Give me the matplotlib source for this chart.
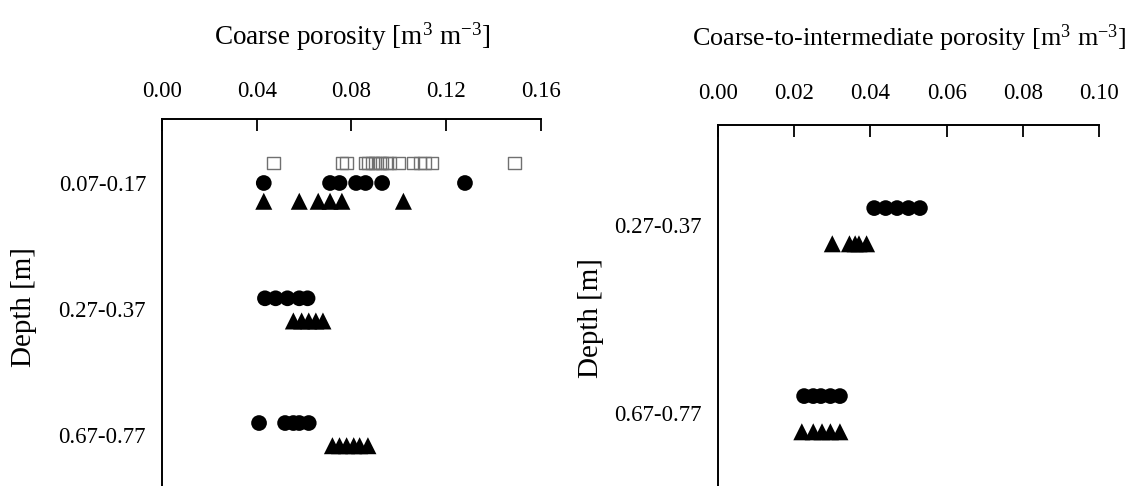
import matplotlib
matplotlib.use("Agg")
import matplotlib.pyplot as plt

plt.rcParams["font.family"] = ["Liberation Serif", "DejaVu Serif"]
plt.rcParams["mathtext.fontset"] = "custom"
plt.rcParams["mathtext.rm"] = "Liberation Serif"
plt.rcParams["mathtext.it"] = "Liberation Serif:italic"

# ---- data -------------------------------------------------------------
depths_coarse = ["0.07-0.17", "0.27-0.37", "0.67-0.77"]
depths_inter = ["0.27-0.37", "0.67-0.77"]

# Coarse porosity [m3 m-3]
coarse_square_0717 = [0.047, 0.076, 0.078, 0.086, 0.087, 0.089, 0.090, 0.092,
                      0.093, 0.095, 0.096, 0.100, 0.106, 0.109, 0.111, 0.114, 0.149]
coarse_circle_0717 = [0.043, 0.071, 0.075, 0.082, 0.086, 0.093, 0.128]
coarse_triangle_0717 = [0.043, 0.058, 0.066, 0.071, 0.076, 0.102]
coarse_circle_2737 = [0.0435, 0.048, 0.053, 0.058, 0.0615]
coarse_triangle_2737 = [0.0555, 0.059, 0.062, 0.065, 0.068]
coarse_circle_6777 = [0.041, 0.052, 0.0555, 0.058, 0.062]
coarse_triangle_6777 = [0.072, 0.075, 0.078, 0.081, 0.0835, 0.087]

# Coarse-to-intermediate porosity [m3 m-3]
inter_circle_2737 = [0.041, 0.044, 0.047, 0.050, 0.053]
inter_triangle_2737 = [0.030, 0.0345, 0.036, 0.037, 0.039]
inter_circle_6777 = [0.0226, 0.025, 0.027, 0.0295, 0.032]
inter_triangle_6777 = [0.022, 0.025, 0.0273, 0.0295, 0.032]

# ---- styling ----------------------------------------------------------
W, H = 1135, 486
fig = plt.figure(figsize=(W / 100, H / 100), dpi=100)

circle_kw = dict(marker="o", s=128, c="black", edgecolors="none", zorder=3)
tri_kw = dict(marker="^", s=150, c="black", edgecolors="none", zorder=3)
square_kw = dict(marker="s", s=82, facecolors="none", edgecolors="#707070",
                 linewidths=1.0, zorder=2)

UNIT = r"[m$\mathregular{^{3}}$ m$\mathregular{^{-3}}$]"


def make_axes(left_px, right_px, top_px, bottom_px, cat0_px, px_per_cat, xmax):
    ax = fig.add_axes([left_px / W, 1 - bottom_px / H,
                       (right_px - left_px) / W, (bottom_px - top_px) / H])
    ax.set_xlim(0, xmax)
    ax.set_ylim((bottom_px - cat0_px) / px_per_cat, (top_px - cat0_px) / px_per_cat)
    for side in ("right", "bottom"):
        ax.spines[side].set_visible(False)
    for side in ("top", "left"):
        ax.spines[side].set_linewidth(1.4)
    ax.xaxis.set_ticks_position("top")
    ax.xaxis.set_label_position("top")
    ax.tick_params(axis="x", direction="in", length=8.5, width=1.3,
                   labelsize=16.5, pad=12)
    ax.tick_params(axis="y", length=0, labelsize=16.5, pad=11.5)
    return ax


# Left panel: coarse porosity
ax1 = make_axes(162, 540.7, 118.7, 520, 183, 126, 0.16)
ax1.set_xticks([0.00, 0.04, 0.08, 0.12, 0.16])
ax1.set_xticklabels([f"{v:.2f}" for v in [0.00, 0.04, 0.08, 0.12, 0.16]])
ax1.set_yticks(range(len(depths_coarse)))
ax1.set_yticklabels(depths_coarse)

ax1.scatter(coarse_square_0717, [-0.16] * len(coarse_square_0717), **square_kw)
ax1.scatter(coarse_circle_0717, [0.0] * len(coarse_circle_0717), **circle_kw)
ax1.scatter(coarse_triangle_0717, [0.145] * len(coarse_triangle_0717), **tri_kw)
ax1.scatter(coarse_circle_2737, [1 - 0.085] * len(coarse_circle_2737), **circle_kw)
ax1.scatter(coarse_triangle_2737, [1 + 0.095] * len(coarse_triangle_2737), **tri_kw)
ax1.scatter(coarse_circle_6777, [2 - 0.095] * len(coarse_circle_6777), **circle_kw)
ax1.scatter(coarse_triangle_6777, [2 + 0.085] * len(coarse_triangle_6777), **tri_kw)

ax1.set_xlabel("Coarse porosity " + UNIT, fontsize=19.5)
ax1.xaxis.set_label_coords(0.503, 1.185)
ax1.set_ylabel("Depth [m]", fontsize=21)
ax1.yaxis.set_label_coords(-0.33, 0.53)

# Right panel: coarse-to-intermediate porosity
ax2 = make_axes(718, 1099, 125, 520, 225, 188, 0.10)
ax2.set_xticks([0.00, 0.02, 0.04, 0.06, 0.08, 0.10])
ax2.set_xticklabels([f"{v:.2f}" for v in [0.00, 0.02, 0.04, 0.06, 0.08, 0.10]])
ax2.tick_params(axis="x", pad=15)
ax2.set_yticks(range(len(depths_inter)))
ax2.set_yticklabels(depths_inter)

ax2.scatter(inter_circle_2737, [-0.09] * len(inter_circle_2737), **circle_kw)
ax2.scatter(inter_triangle_2737, [0.10] * len(inter_triangle_2737), **tri_kw)
ax2.scatter(inter_circle_6777, [1 - 0.09] * len(inter_circle_6777), **circle_kw)
ax2.scatter(inter_triangle_6777, [1 + 0.10] * len(inter_triangle_6777), **tri_kw)

ax2.set_xlabel("Coarse-to-intermediate porosity " + UNIT, fontsize=18.8)
ax2.xaxis.set_label_coords(0.503, 1.2)
ax2.set_ylabel("Depth [m]", fontsize=21)
ax2.yaxis.set_label_coords(-0.3, 0.51)

fig.savefig("out.png", dpi=100)
